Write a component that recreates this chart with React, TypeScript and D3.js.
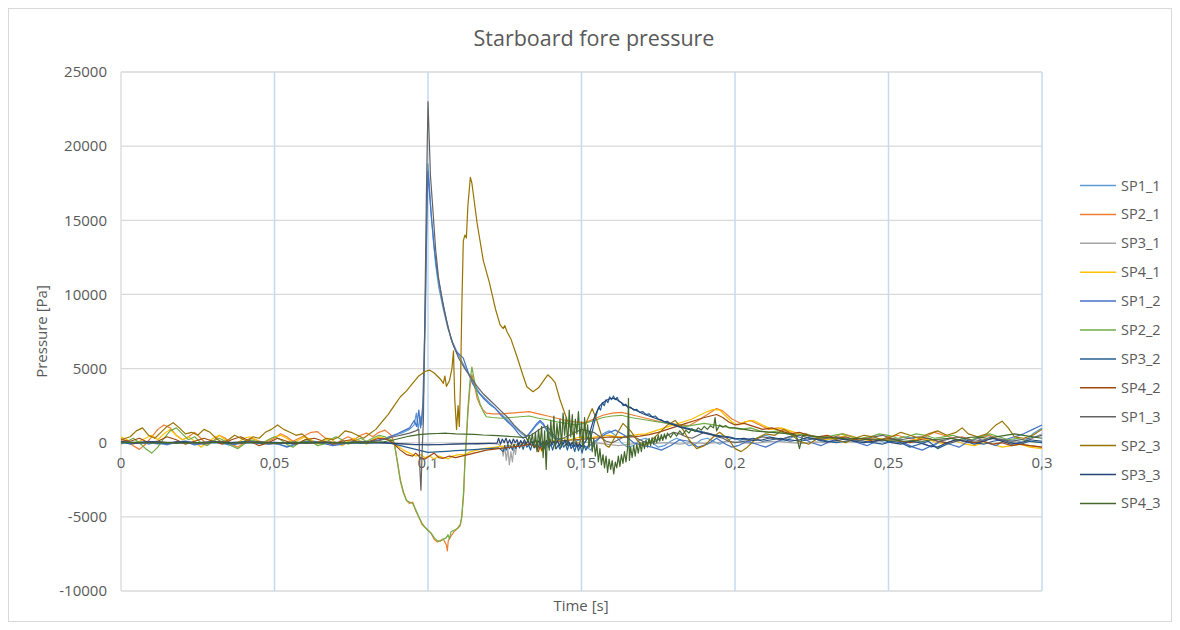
import React from "react";
import * as d3 from "d3";

// time in ms, value in Pa (flat pairs: t, v, t, v, ...)
const SP1_1 = [0,0, 3,-50, 6,80, 9,-100, 12,50, 15,-150, 18,30, 21,120, 24,-80, 27,0, 30,150, 33,-50, 36,-200, 39,50, 42,100, 45,-50, 48,30, 51,-100, 54,-250, 57,-50, 60,80, 63,-30, 66,100, 69,-150, 72,-60, 75,50, 78,-40, 81,80, 84,150, 86,250, 88,400, 90,550, 92,700, 94,900, 95.5,1200, 96.2,2000, 96.8,900, 97.4,1800, 98,1200, 98.6,3500, 99.2,9000, 99.7,16000, 100,18800, 100.4,17500, 101,15500, 101.8,13500, 102.5,12000, 103.5,10500, 105,9000, 106.5,7700, 108,6800, 109.5,6100, 111,5500, 112.5,4900, 114,4300, 115.5,3800, 117,3300, 119,2900, 121,2500, 123,2100, 125,1700, 127,1300, 129,900, 130.5,600, 132,400, 133.5,700, 135,1100, 136.5,1400, 137.5,1200, 139,700, 141,300, 143,100, 145,0, 147,-100, 149,200, 151,-200, 153,-500, 155,100, 157,600, 159,800, 161,500, 163,0, 165,-300, 167,-200, 169,200, 171,300, 173,0, 175,-300, 177,-200, 179,100, 181,300, 183,100, 185,-200, 187,-100, 189,200, 191,300, 193,100, 195,-100, 197,100, 199,300, 201,200, 204,0, 207,300, 210,500, 213,300, 216,100, 219,400, 222,600, 225,400, 228,100, 231,200, 234,400, 237,300, 240,100, 243,300, 246,200, 249,0, 252,100, 255,400, 258,300, 261,0, 264,-300, 267,100, 270,300, 273,200, 276,0, 279,300, 282,500, 285,300, 288,100, 291,200, 294,0, 297,600, 300,1000];
const SP2_1 = [0,300, 2,100, 4,-200, 6,-450, 8,-100, 10,400, 12,900, 14,1200, 16,1000, 18,500, 20,200, 22,400, 24,700, 26,300, 28,-100, 30,100, 32,500, 34,300, 36,-100, 38,-300, 40,0, 42,300, 44,200, 46,-100, 48,100, 50,300, 52,600, 54,400, 56,100, 58,300, 60,500, 62,700, 64,750, 66,400, 68,100, 70,-100, 72,200, 74,400, 76,200, 78,500, 80,650, 82,400, 84,700, 86,850, 88,500, 89,0, 90,-1200, 91,-2500, 92,-3300, 93,-3900, 94,-4100, 95,-4000, 96,-4600, 97,-5000, 98,-5500, 99,-5700, 100,-5900, 101,-6100, 102,-6500, 103,-6700, 104,-6600, 105,-6500, 106,-6900, 106.3,-7300, 106.6,-6600, 107.5,-6300, 108.5,-6000, 109.5,-5800, 110.5,-5600, 111,-5000, 111.6,-3500, 112,-1500, 112.5,200, 113,2000, 113.7,3800, 114.3,4600, 115,4000, 116,3000, 117,2500, 118,2200, 119,2000, 121,1950, 124,1950, 127,2000, 130,2050, 133,2100, 136,1950, 139,1800, 142,1650, 145,1500, 148,1400, 151,1350, 154,1600, 157,1850, 160,2000, 163,2050, 166,1900, 170,1700, 174,1500, 178,1300, 182,1200, 185,1150, 188,1500, 191,1900, 194,2300, 196,2150, 199,1600, 202,1300, 205,1500, 208,1200, 211,900, 214,1000, 217,800, 220,500, 223,600, 226,400, 229,250, 232,350, 235,600, 238,450, 241,250, 244,300, 247,150, 250,400, 253,500, 256,300, 259,200, 262,400, 265,700, 268,500, 271,300, 274,400, 277,200, 280,300, 283,500, 286,200, 289,0, 292,-100, 296,-200, 300,-300];
const SP3_1 = [0,100, 4,-50, 8,50, 12,-100, 16,0, 20,50, 24,-50, 28,0, 32,100, 36,-50, 40,0, 44,50, 48,-100, 52,0, 56,50, 60,-50, 64,0, 68,50, 72,-50, 76,0, 80,50, 84,0, 88,-50, 92,-100, 96,-150, 100,-100, 104,-150, 108,-100, 112,-50, 116,-100, 120,-50, 123,-100, 124,-300, 124.5,-900, 125,-200, 125.5,-1200, 126,-400, 126.5,-1500, 127,-600, 127.5,-1300, 128,-300, 128.5,-800, 129,-100, 130,0, 134,50, 138,100, 142,0, 146,-50, 150,50, 154,0, 158,-100, 162,-200, 166,-100, 170,0, 174,-50, 178,0, 182,-100, 186,0, 190,-50, 194,0, 198,100, 202,0, 206,-50, 210,50, 214,100, 218,0, 222,-50, 226,50, 230,0, 234,100, 238,50, 242,0, 246,100, 250,150, 254,50, 258,0, 262,100, 266,200, 270,300, 274,100, 278,0, 282,200, 286,300, 290,100, 294,0, 297,300, 300,600];
const SP4_1 = [0,400, 2,200, 4,-100, 6,100, 8,300, 10,500, 12,200, 14,600, 16,900, 18,500, 20,200, 22,400, 24,100, 26,-300, 28,0, 30,300, 32,500, 34,200, 36,-200, 38,0, 40,300, 42,400, 44,200, 46,0, 48,200, 50,400, 52,500, 54,300, 56,0, 58,200, 60,400, 62,200, 64,-100, 66,100, 68,300, 70,0, 72,-200, 74,100, 76,300, 78,100, 80,-100, 82,200, 84,400, 86,300, 88,100, 90,-200, 92,-500, 94,-700, 96,-900, 97.5,-800, 99,-1000, 100.5,-900, 102,-1100, 103.5,-900, 105,-1000, 106.5,-1100, 108,-900, 110,-800, 112,-800, 114,-600, 116,-500, 118,-400, 120,-350, 122,-300, 124,-250, 126,-200, 128,-150, 130,-100, 132,-50, 134,0, 136,100, 137,-600, 138,-100, 140,200, 142,100, 144,300, 146,200, 148,300, 150,400, 153,350, 156,450, 159,500, 162,400, 165,450, 168,550, 171,600, 174,800, 177,1000, 180,1200, 183,1400, 186,1600, 189,1900, 191,2100, 193,2250, 195,2200, 197,1800, 199,1400, 201,1200, 203,1400, 206,1500, 209,1200, 212,900, 215,1000, 218,800, 221,600, 224,500, 227,300, 230,200, 233,300, 236,500, 239,300, 242,200, 245,100, 248,300, 251,200, 254,0, 257,100, 260,300, 263,200, 266,0, 269,-100, 272,100, 275,-100, 278,-200, 281,0, 284,-100, 287,-300, 290,-200, 293,-100, 296,-300, 300,-400];
const SP1_2 = [0,100, 3,-100, 6,0, 9,100, 12,-50, 15,-120, 18,80, 21,50, 24,-150, 27,-50, 30,100, 33,0, 36,-150, 39,-50, 42,150, 45,0, 48,-100, 51,-50, 54,-300, 57,-100, 60,50, 63,100, 66,-50, 69,-200, 72,-100, 75,0, 78,50, 81,100, 84,200, 86,300, 88,450, 90,600, 92,800, 94,1000, 95.5,1500, 96.3,1100, 97,2200, 97.6,1000, 98.3,2500, 99,8000, 99.6,15000, 100,18300, 100.5,16800, 101.2,15000, 102,13200, 103,11500, 104.5,9800, 106,8300, 107.5,7000, 109,6200, 110.5,5900, 111.5,5700, 113,4800, 114.5,4000, 116,3500, 118,3000, 120,2600, 122,2300, 124,1800, 126,1400, 128,1000, 129.5,600, 131,300, 132.5,500, 134,900, 135.5,1300, 136.5,1500, 137.5,1300, 139,800, 141,400, 143,200, 145,100, 147,-200, 149,-200, 152,-300, 155,200, 158,600, 161,850, 164,500, 167,0, 170,-200, 173,-300, 176,-500, 179,-200, 182,200, 185,100, 188,-300, 191,-100, 194,300, 197,-100, 199,-300, 201,-200, 204,100, 207,-100, 210,-300, 213,0, 216,300, 219,500, 222,300, 225,0, 228,-200, 231,100, 234,300, 237,200, 240,0, 243,-200, 246,100, 249,300, 252,200, 255,0, 258,-300, 261,-500, 264,-200, 267,100, 270,-100, 273,-300, 276,100, 279,300, 282,0, 285,-200, 288,200, 291,400, 294,600, 297,900, 300,1200];
const SP2_2 = [0,-100, 2,100, 4,300, 6,0, 8,-400, 10,-700, 12,-300, 14,300, 16,800, 18,1000, 20,600, 22,200, 24,400, 26,0, 28,-200, 30,100, 32,300, 34,100, 36,-200, 38,-400, 40,-100, 42,200, 44,100, 46,-100, 48,200, 50,400, 52,200, 54,-100, 56,-300, 58,0, 60,200, 62,100, 64,-200, 66,-100, 68,200, 70,400, 72,200, 74,-100, 76,100, 78,300, 80,100, 82,300, 84,500, 86,400, 88,200, 89,0, 90,-1300, 91,-2600, 92,-3400, 93,-3900, 94,-4000, 95,-4100, 96,-4500, 97,-5000, 98,-5400, 99,-5700, 100,-5900, 101,-6100, 102,-6400, 103,-6600, 104,-6650, 105,-6500, 106,-6400, 106.5,-6200, 107,-6500, 107.5,-6000, 108.5,-5900, 109.5,-5800, 110.5,-5500, 111,-5000, 111.6,-3300, 112,-1300, 112.5,300, 113,2300, 113.7,4200, 114.3,5100, 115,4300, 116,3300, 117,2600, 118,2100, 119,1750, 121,1700, 124,1650, 127,1700, 130,1750, 133,1800, 136,1650, 139,1550, 142,1400, 145,1300, 148,1200, 151,1300, 154,1500, 157,1700, 160,1800, 163,1850, 166,1700, 169,1600, 172,1500, 175,1400, 178,1300, 181,1200, 184,1100, 187,1200, 190,1300, 193,1200, 196,1100, 199,1000, 202,900, 205,1000, 208,800, 211,700, 214,800, 217,600, 220,500, 223,600, 226,400, 229,300, 232,500, 235,600, 238,400, 241,300, 244,400, 247,600, 250,500, 253,300, 256,400, 259,600, 262,500, 265,300, 268,400, 271,500, 274,300, 277,200, 280,400, 283,600, 286,400, 289,200, 292,300, 295,100, 300,0];
const SP3_2 = [0,0, 5,-50, 10,0, 15,-30, 20,20, 25,-20, 30,0, 35,-50, 40,0, 45,-30, 50,0, 55,-40, 60,0, 65,20, 70,-20, 75,0, 80,-30, 85,0, 88,-50, 91,-200, 94,-350, 97,-500, 100,-650, 103,-620, 106,-580, 109,-540, 112,-500, 115,-460, 118,-420, 121,-380, 123,-350, 124.5,-600, 125,-200, 125.5,-500, 126,-100, 126.5,-400, 127,-200, 127.5,-500, 128,-100, 128.6,-400, 129.2,-50, 129.8,-350, 130.4,-100, 131,-450, 131.6,0, 132.2,-300, 132.8,-150, 133.4,-500, 134,-50, 134.6,-350, 135.2,-100, 135.8,-400, 136.4,50, 137,-300, 137.6,-150, 138.2,-450, 138.8,0, 139.4,-350, 140,-100, 140.6,-500, 141.2,-50, 141.8,-400, 142.4,-150, 143,-450, 143.6,0, 144.2,-300, 144.8,-100, 145.4,-500, 146,-50, 146.6,-400, 147.2,-200, 147.8,-600, 148.4,-100, 149,-550, 149.6,-200, 150.2,-700, 150.8,-150, 151.4,-500, 152,-300, 153,300, 154,1200, 155,2000, 155.6,2400, 156.2,2200, 156.8,2700, 157.4,2500, 158,2900, 158.6,2700, 159.2,3100, 159.8,2900, 160.4,3150, 161,2900, 161.6,3050, 162.2,2800, 163,2700, 163.6,2500, 164.4,2600, 165.2,2350, 166,2400, 167,2200, 168,2250, 169,2050, 170,2100, 171,1900, 172,1950, 173,1750, 174,1800, 175,1600, 176,1550, 177,1400, 178,1450, 179,1300, 180,1250, 182,1100, 184,1000, 186,900, 188,800, 190,700, 192,600, 194,500, 196,450, 198,400, 200,300, 203,200, 206,300, 209,100, 212,200, 215,300, 218,200, 221,100, 224,200, 227,300, 230,100, 233,0, 236,100, 239,200, 242,100, 245,0, 248,-100, 251,100, 254,0, 257,-300, 260,-100, 263,100, 266,-400, 269,-100, 272,100, 275,200, 278,0, 281,-100, 284,100, 287,200, 290,0, 293,-100, 296,100, 300,0];
const SP4_2 = [0,200, 3,100, 6,300, 9,0, 12,100, 15,400, 18,200, 21,-100, 24,100, 27,300, 30,100, 33,-100, 36,200, 39,400, 42,100, 45,-200, 48,0, 51,300, 54,100, 57,-100, 60,200, 63,300, 66,100, 69,-100, 72,100, 75,200, 78,0, 81,100, 84,300, 87,200, 89,-100, 91,-500, 93,-800, 95,-900, 96,-700, 97.5,-1000, 99,-1100, 100.5,-900, 102,-700, 103.5,-1000, 105,-1050, 107,-900, 109,-1000, 111,-900, 113,-800, 115,-700, 117,-600, 119,-500, 121,-450, 123,-400, 125,-350, 127,-300, 129,-250, 131,-200, 133,-100, 135,-250, 136,-600, 136.5,-200, 137,-500, 138,-100, 140,0, 142,100, 145,150, 148,200, 151,250, 154,300, 157,350, 160,400, 163,350, 166,400, 169,450, 172,550, 175,700, 178,900, 181,1100, 184,1300, 187,1500, 190,1700, 192,1800, 194,1900, 196,1700, 198,1400, 200,1200, 203,1300, 206,1100, 209,900, 212,1000, 215,800, 218,600, 221,700, 224,500, 227,400, 230,500, 233,300, 236,400, 239,200, 242,300, 245,100, 248,200, 251,300, 254,100, 257,0, 260,200, 263,300, 266,100, 269,0, 272,200, 275,100, 278,0, 281,100, 284,-100, 287,0, 290,-200, 293,-100, 296,-200, 300,-300];
const SP1_3 = [0,50, 3,0, 6,-50, 9,50, 12,100, 15,0, 18,-50, 21,50, 24,0, 27,-100, 30,50, 33,100, 36,0, 39,-50, 42,50, 45,100, 48,0, 51,-80, 54,0, 57,50, 60,-50, 63,0, 66,50, 69,0, 72,-50, 75,50, 78,100, 81,50, 84,150, 86,250, 88,350, 90,450, 92,550, 94,650, 96,800, 97,900, 97.4,-2000, 97.7,-3200, 98.1,-500, 98.5,1500, 99,9000, 99.5,17000, 100,23000, 100.4,20500, 100.8,18000, 101.5,16000, 102.5,13000, 103.5,11000, 105,9200, 106.5,7800, 108,6700, 110,5700, 112,5000, 114,4400, 116,3800, 118,3300, 120,2900, 122.5,2400, 124,2100, 126,1700, 128,1200, 130,800, 132,450, 133.5,500, 135,700, 137,1000, 138.8,1100, 140,800, 142,250, 144,300, 146,500, 148,700, 150,900, 152,800, 154,700, 156,400, 158,100, 160,0, 162,200, 164,400, 166,500, 168,300, 170,100, 172,0, 174,100, 176,300, 178,500, 180,700, 182,600, 184,400, 186,300, 188,500, 190,700, 192,600, 194,400, 196,300, 198,100, 200,0, 203,100, 206,200, 209,400, 212,300, 215,200, 218,400, 221,500, 224,300, 227,200, 230,300, 233,400, 236,200, 239,100, 242,200, 245,400, 248,500, 251,300, 254,200, 257,300, 260,400, 263,300, 266,100, 269,200, 272,400, 275,300, 278,100, 281,200, 284,300, 287,200, 290,100, 293,200, 296,300, 300,500];
const SP2_3 = [0,200, 3,400, 5,800, 7,1000, 9,500, 11,300, 13,700, 15,1100, 17,1350, 19,1000, 21,600, 23,700, 25,500, 27,900, 29,700, 31,300, 33,0, 35,200, 37,500, 39,300, 41,100, 43,400, 45,300, 47,700, 49,900, 51,1200, 53,900, 55,700, 57,500, 59,600, 61,200, 63,0, 65,100, 67,300, 69,200, 71,400, 73,800, 75,700, 77,500, 79,300, 81,600, 83,900, 85,1400, 87,1900, 89,2500, 91,3100, 93,3500, 95,4000, 97,4500, 99,4800, 100.5,4900, 102,4700, 104,4300, 105,4000, 105.5,4500, 106,3800, 107,4200, 107.8,5000, 108.3,6200, 108.7,3000, 109.3,900, 109.8,2500, 110.2,1100, 110.6,4000, 111,9000, 111.5,13600, 112,14000, 112.5,13800, 113,16000, 113.8,17900, 114.3,17500, 116,14800, 118,12300, 120,10800, 122,9000, 123.5,7950, 124.5,7700, 125,7900, 125.7,7500, 127,7000, 129,5800, 131,4500, 132.2,3770, 134.2,3440, 136,3700, 139,4580, 140,4400, 141.4,4050, 143,2900, 145.3,1550, 148,200, 149,-200, 150,300, 151,1000, 152,1600, 153.5,2300, 155,1500, 156.5,500, 158,-200, 159,-300, 161,400, 163.5,1300, 166,800, 168,200, 170,-200, 172,0, 175,600, 178,1200, 180.5,1500, 183,900, 185,200, 187.5,-400, 190,-200, 193,400, 195,700, 198,200, 200,-400, 202,-600, 204,-300, 207,300, 210,600, 213,500, 216,900, 218,600, 221,100, 224,-100, 227,300, 230,400, 233,200, 236,0, 239,300, 242,500, 245,400, 248,200, 251,400, 254,700, 257,500, 260,300, 263,600, 266,800, 269,500, 272,700, 274,1000, 276,600, 279,400, 282,600, 285,1200, 287,1450, 289,1000, 291,400, 294,300, 297,500, 300,900];
const SP3_3 = [0,50, 5,0, 10,50, 15,0, 20,50, 25,0, 30,50, 35,0, 40,50, 45,0, 50,30, 55,-30, 60,20, 65,0, 70,30, 75,-20, 80,20, 85,0, 88,-30, 92,-80, 96,-120, 100,-150, 104,-120, 108,-100, 112,-80, 116,-60, 120,-40, 122.5,-30, 123,300, 123.6,-100, 124.2,250, 124.8,0, 125.4,300, 126,-50, 126.6,200, 127.2,-100, 127.8,250, 128.4,0, 129,200, 129.6,-150, 130.2,150, 130.8,-100, 131.4,200, 132,-50, 132.6,150, 133.2,-150, 133.8,100, 134.4,-100, 135,200, 135.6,-50, 136.2,150, 136.8,-150, 137.4,100, 138,-200, 138.6,150, 139.2,-100, 139.8,200, 140.4,-150, 141,100, 141.6,-100, 142.2,150, 142.8,-200, 143.4,100, 144,-100, 144.6,200, 145.2,-150, 145.8,100, 146.4,-200, 147,50, 147.6,-250, 148.2,0, 148.8,-300, 149.4,-50, 150,-250, 151,0, 152,300, 153,900, 154,1600, 155,2100, 156,2500, 157,2700, 158,2850, 159,2950, 160,3000, 161,2950, 162,2850, 163,2700, 164,2550, 166,2350, 168,2150, 170,1950, 172,1800, 174,1650, 176,1500, 178,1350, 180,1200, 182,1050, 184,950, 186,850, 188,750, 190,650, 192,550, 194,450, 196,400, 198,350, 200,250, 203,300, 206,150, 209,200, 212,350, 215,250, 218,100, 221,200, 224,350, 227,200, 230,50, 233,150, 236,250, 239,100, 242,0, 245,100, 248,200, 251,0, 254,-100, 257,100, 260,0, 263,-200, 266,-300, 269,0, 272,200, 275,100, 278,-100, 281,100, 284,300, 287,100, 290,-100, 293,0, 296,200, 300,100];
const SP4_3 = [0,0, 5,30, 10,-20, 15,20, 20,-30, 25,0, 30,30, 35,-20, 40,0, 45,20, 50,-30, 55,0, 60,20, 65,-20, 70,0, 75,20, 80,0, 85,50, 88,150, 91,300, 94,450, 97,550, 100,600, 103,620, 106,640, 109,600, 112,580, 115,560, 118,520, 121,500, 124,460, 127,420, 130,380, 132,350, 132.5,100, 133,500, 133.5,0, 134,600, 134.5,-300, 135,700, 135.5,-600, 136,900, 136.5,-200, 137,1100, 137.5,-1000, 138,800, 138.5,-1800, 139,1200, 139.5,-500, 140,1500, 140.5,0, 141,1800, 141.5,-400, 142,1300, 142.5,200, 143,1600, 143.5,-300, 144,2000, 144.5,500, 145,1700, 145.5,-200, 146,2200, 146.5,400, 147,1900, 147.5,-100, 148,1600, 148.5,600, 149,2100, 149.5,300, 150,1400, 150.5,-400, 151,1700, 151.5,200, 152,1200, 152.5,-300, 153,800, 153.5,-600, 154,300, 154.5,-900, 155,-100, 155.5,-1300, 156,-400, 156.5,-1500, 157,-800, 157.5,-1700, 158,-900, 158.5,-2000, 159,-1100, 159.5,-1800, 160,-1200, 160.5,-2100, 161,-1300, 161.5,-1700, 162,-900, 162.5,-1600, 163,-800, 163.5,-1400, 164,-600, 164.5,-1300, 165,-400, 165.3,3000, 165.6,-1200, 166,-300, 166.5,-1000, 167,-200, 167.5,-900, 168,-100, 168.5,-700, 169,0, 169.5,-600, 170,100, 170.5,-400, 171,200, 171.5,-300, 172,300, 172.5,-200, 173,350, 173.5,-100, 174,400, 174.5,0, 175,500, 175.5,100, 176,550, 176.5,150, 177,600, 177.5,250, 178,650, 179,350, 180,700, 181,450, 182,800, 183,550, 184,850, 185,650, 186,950, 187,750, 188,1000, 189,850, 190,1100, 191,900, 192,1150, 193,1000, 193.5,1700, 194,800, 195,1200, 196,1050, 197,1150, 198,1000, 200,1000, 203,900, 206,800, 209,750, 212,700, 215,650, 218,600, 220,500, 221,-400, 222,500, 225,450, 228,400, 231,350, 234,300, 237,250, 240,300, 243,200, 246,250, 249,150, 252,200, 255,100, 258,150, 261,100, 264,200, 267,250, 270,300, 273,200, 276,350, 279,400, 282,300, 285,400, 288,500, 291,600, 294,500, 297,400, 300,300];

const SERIES_NAMES = ["SP1_1","SP2_1","SP3_1","SP4_1","SP1_2","SP2_2","SP3_2","SP4_2","SP1_3","SP2_3","SP3_3","SP4_3"];
const SERIES_DATA = [SP1_1, SP2_1, SP3_1, SP4_1, SP1_2, SP2_2, SP3_2, SP4_2, SP1_3, SP2_3, SP3_3, SP4_3];
const COLORS = ["#5B9BD5","#ED7D31","#A5A5A5","#FFC000","#4472C4","#70AD47","#255E91","#9E480E","#636363","#997300","#264478","#43682B"];
const Y_TICKS = [-10000,-5000,0,5000,10000,15000,20000,25000];
const X_TICKS = [0,0.05,0.1,0.15,0.2,0.25,0.3];
const X_TICK_LABELS = ["0","0,05","0,1","0,15","0,2","0,25","0,3"];

const FONT = "'Open Sans', 'Noto Sans', sans-serif";
const TXT = "#595959";

function toPairs(a: number[]): [number, number][] {
  const r: [number, number][] = [];
  for (let i = 0; i < a.length; i += 2) r.push([a[i] / 1000, a[i + 1]]);
  return r;
}

export default function App() {
  const x = d3.scaleLinear().domain([0, 0.3]).range([121, 1042]);
  const y = d3.scaleLinear().domain([-10000, 25000]).range([591, 72]);
  const line = d3.line<[number, number]>().x(d => x(d[0])).y(d => y(d[1]));
  return (
    <svg width={1180} height={630} style={{ position: "absolute", left: 0, top: 0, display: "block", background: "#fff" }}>
      <rect x={8.5} y={8.5} width={1163} height={613} fill="#fff" stroke="#d9d9d9" />
      <text x={594} y={46} textAnchor="middle" fontFamily={FONT} fontSize={21.5} fill={TXT}>Starboard fore pressure</text>
      {Y_TICKS.map(t => (
        <line key={"h" + t} x1={121} x2={1042} y1={y(t)} y2={y(t)} stroke="#d9d9d9" strokeWidth={1.3} />
      ))}
      {X_TICKS.slice(1).map(t => (
        <line key={"v" + t} x1={x(t)} x2={x(t)} y1={72} y2={591} stroke="#c5daf0" strokeWidth={1.5} />
      ))}
      <line x1={121} x2={121} y1={72} y2={591} stroke="#d9d9d9" strokeWidth={1.3} />
      {Y_TICKS.map(t => (
        <text key={"yl" + t} x={107} y={y(t)} dy="0.35em" textAnchor="end" fontFamily={FONT} fontSize={15} fill={TXT}>{t}</text>
      ))}
      {X_TICKS.map((t, i) => (
        <text key={"xl" + t} x={x(t)} y={y(0) + 20} dy="0.35em" textAnchor="middle" fontFamily={FONT} fontSize={15} fill={TXT}>{X_TICK_LABELS[i]}</text>
      ))}
      <text x={581} y={606} dy="0.35em" textAnchor="middle" fontFamily={FONT} fontSize={15} fill={TXT}>Time [s]</text>
      <text transform={`translate(42,${y(7500)}) rotate(-90)`} dy="0.35em" textAnchor="middle" fontFamily={FONT} fontSize={15} fill={TXT}>Pressure [Pa]</text>
      <g>
        {SERIES_DATA.map((s, i) => (
          <path key={SERIES_NAMES[i]} d={line(toPairs(s)) || ""} fill="none" stroke={COLORS[i]} strokeWidth={1.2} strokeLinejoin="round" />
        ))}
      </g>
      {SERIES_NAMES.map((n, i) => {
        const ly = 185.5 + i * 28.9;
        return (
          <g key={"lg" + n}>
            <line x1={1080} x2={1116} y1={ly} y2={ly} stroke={COLORS[i]} strokeWidth={1.5} />
            <text x={1121} y={ly} dy="0.35em" fontFamily={FONT} fontSize={14.5} fill={TXT}>{n}</text>
          </g>
        );
      })}
    </svg>
  );
}
